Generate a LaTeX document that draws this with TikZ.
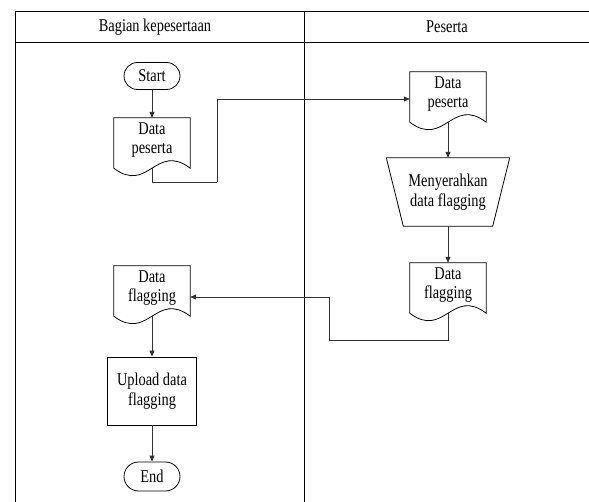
\documentclass[tikz,border=0pt]{standalone}
\usepackage{fontspec}
\setmainfont{Liberation Serif}[FakeStretch=0.8]
\usetikzlibrary{calc,arrows.meta}

% outline of a document symbol: flat top, wavy bottom edge
\newcommand\docoutline[1]{%
  \draw[shapeline] (#1.north west) -- (#1.north east) -- ($(#1.south east)+(0,6)$)
    .. controls ($(#1.south west)!0.55!(#1.south east)+(0,-20)$)
           and ($(#1.south west)!0.45!(#1.south east)+(0,32)$) .. ($(#1.south west)+(0,6)$) -- cycle;
  \coordinate (#1-w) at ($(#1.south)+(0,6)$);}
% outline of a manual-operation symbol (trapezium, wide side up)
\newcommand\manoutline[1]{%
  \draw[shapeline] (#1.north west) -- (#1.north east) -- ($(#1.south east)+(-17,0)$)
    -- ($(#1.south west)+(17,0)$) -- cycle;}

\tikzset{
  shapeline/.style={draw=black, line width=0.8pt},
  txt/.style={font=\fontsize{18}{19.5}\selectfont, align=center, inner sep=0pt},
  terminal/.style={txt, shapeline, minimum width=56pt, minimum height=27pt, rounded corners=13.5pt},
  docbox/.style={txt, minimum width=76pt, minimum height=44pt},
  manbox/.style={txt, minimum width=123pt, minimum height=68pt},
  procbox/.style={txt, shapeline, minimum width=89pt, minimum height=68pt},
  flow/.style={draw=black!80, line width=0.8pt, -{Triangle[length=6pt,width=5pt]}},
  frame/.style={draw=black, line width=0.8pt}
}

\begin{document}
\begin{tikzpicture}[x=1pt, y={(0pt,-1pt)}]
\useasboundingbox (0,0) rectangle (589,502);

% swimlane frame
\draw[frame] (15,11) -- (589,11);
\draw[frame] (15,42) -- (589,42);
\draw[frame] (15,11) -- (15,502);
\draw[frame] (304,11) -- (304,502);
\node[txt] (lane1) at (155,27) {Bagian kepesertaan};
\node[txt] (lane2) at (447,27) {Peserta};

% lane 1
\node[terminal] (start) at (152,76) {Start};
\node[docbox] (dp1) at (152,140) {Data\\peserta};
\docoutline{dp1}
\node[docbox] (df1) at (152,288) {Data\\flagging};
\docoutline{df1}
\node[procbox] (up) at (152,391) {Upload data\\flagging};
\node[terminal, minimum height=29pt, rounded corners=14.5pt] (end) at (152,476.5) {End};

% lane 2
\node[docbox] (dp2) at (448,94) {Data\\peserta};
\docoutline{dp2}
\node[manbox] (man) at (448,192) {Menyerahkan\\data flagging};
\manoutline{man}
\node[docbox] (df2) at (448,285) {Data\\flagging};
\docoutline{df2}

% routing points
\coordinate (r1) at (217,182);
\coordinate (r2) at (217,99);
\coordinate (r3) at (329,340);
\coordinate (r4) at (329,297);

% connectors
\draw[flow] (start) -- (dp1);
\draw[flow, -] (dp1-w) |- (r1);
\draw[flow] (r1) -- (r2) -- (r2 -| dp2.west);
\draw[flow] (dp2-w) -- (man);
\draw[flow] (man) -- (df2);
\draw[flow, -] (df2-w) |- (r3);
\draw[flow] (r3) -- (r4) -- (r4 -| df1.east);
\draw[flow] (df1-w) -- (up);
\draw[flow] (up) -- (end);
\end{tikzpicture}
\end{document}
